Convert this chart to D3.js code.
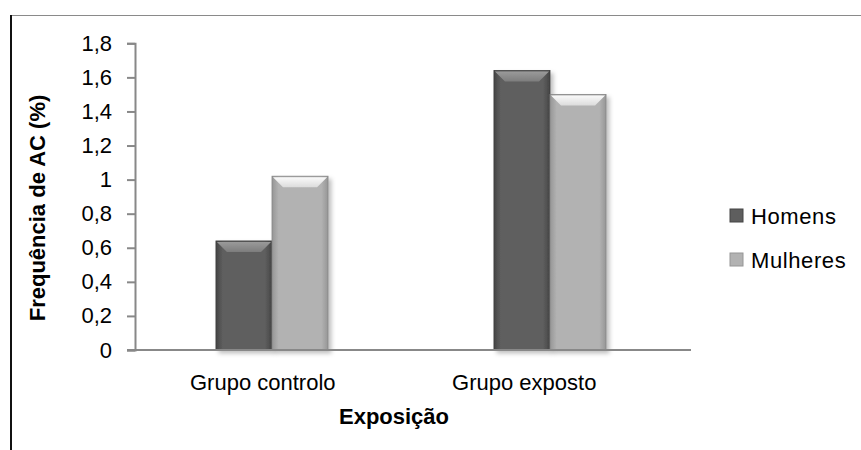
<!DOCTYPE html>
<html>
<head>
<meta charset="utf-8">
<script src="https://cdn.jsdelivr.net/npm/d3@7"></script>
<style>
  body { margin: 0; background: #fff; }
  svg { display: block; font-family: "Liberation Sans", Arial, sans-serif; }
</style>
</head>
<body>
<div id="chart"></div>
<script>
var categories = ["Grupo controlo", "Grupo exposto"]
var series = ["Homens", "Mulheres"]
var homens = [0.64, 1.64]
var mulheres = [1.02, 1.5]
var yTicks = [0, 0.2, 0.4, 0.6, 0.8, 1, 1.2, 1.4, 1.6, 1.8]

var width = 861, height = 450
var plot = {left: 135, right: 691, top: 43.3, bottom: 350}

var svg = d3.select("#chart").append("svg")
    .attr("width", width)
    .attr("height", height)

var defs = svg.append("defs")

// bar shading
var shades = {
  Homens:   {side: "#454545", mid: "#5e5e5e", top: "#7d7d7d", topEdge: "#9a9a9a", edge: "#3c3c3c"},
  Mulheres: {side: "#969696", mid: "#b2b2b2", top: "#dcdcdc", topEdge: "#fafafa", edge: "#858585"}
}
series.forEach(function (s) {
  var g = defs.append("linearGradient").attr("id", "body-" + s)
    .attr("x1", 0).attr("x2", 1).attr("y1", 0).attr("y2", 0)
  g.append("stop").attr("offset", "0%").attr("stop-color", shades[s].side)
  g.append("stop").attr("offset", "12%").attr("stop-color", shades[s].mid)
  g.append("stop").attr("offset", "88%").attr("stop-color", shades[s].mid)
  g.append("stop").attr("offset", "100%").attr("stop-color", shades[s].side)
  var t = defs.append("linearGradient").attr("id", "top-" + s)
    .attr("x1", 0).attr("x2", 0).attr("y1", 0).attr("y2", 1)
  t.append("stop").attr("offset", "0%").attr("stop-color", shades[s].topEdge)
  t.append("stop").attr("offset", "100%").attr("stop-color", shades[s].top)
})

var f = defs.append("filter").attr("id", "shadow")
    .attr("x", "-20%").attr("y", "-10%").attr("width", "150%").attr("height", "130%")
f.append("feDropShadow").attr("dx", 3).attr("dy", 3).attr("stdDeviation", 2)
    .attr("flood-color", "#000").attr("flood-opacity", 0.25)

// frame
svg.append("line").attr("x1", 11).attr("x2", width).attr("y1", 15.5).attr("y2", 15.5)
    .attr("stroke", "#8a8a8a").attr("stroke-width", 1)
svg.append("line").attr("x1", 11).attr("x2", 11).attr("y1", 15).attr("y2", height)
    .attr("stroke", "#111").attr("stroke-width", 2)

var x = d3.scaleBand().domain(categories).range([plot.left, plot.right])
var xs = d3.scaleBand().domain(series).range([-2, x.bandwidth() - 2]).paddingOuter(1.48)
var xLabel = d3.scaleBand().domain(categories).range([132, 655])
var y = d3.scaleLinear().domain([0, 1.8]).range([plot.bottom, plot.top])

var rows = categories.map(function (c, i) {
  return {cat: c, values: [{s: "Homens", v: homens[i]}, {s: "Mulheres", v: mulheres[i]}]}
})

// y axis
var yAxis = svg.append("g")
    .attr("transform", "translate(" + plot.left + ",0)")
    .call(d3.axisLeft(y).tickValues(yTicks).tickSize(8).tickPadding(15)
      .tickFormat(function (d) { return String(d3.format(".1~f")(d)).replace(".", ",") }))
yAxis.select(".domain").attr("stroke", "#888").attr("stroke-width", 2)
yAxis.selectAll(".tick line").attr("stroke", "#888").attr("stroke-width", 2)
yAxis.selectAll("text").attr("font-size", 22).attr("fill", "#000")
    .attr("font-family", "Liberation Sans, Arial, sans-serif")

// bars
var groups = svg.selectAll(".grp").data(rows).enter().append("g")
    .attr("transform", function (d) { return "translate(" + x(d.cat) + ",0)" })

var bars = groups.selectAll(".bar").data(function (d) { return d.values }).enter().append("g")
    .attr("class", "bar")
    .attr("filter", "url(#shadow)")

bars.append("rect")
    .attr("x", function (d) { return xs(d.s) })
    .attr("y", function (d) { return y(d.v) })
    .attr("width", xs.bandwidth())
    .attr("height", function (d) { return y(0) - y(d.v) })
    .attr("fill", function (d) { return "url(#body-" + d.s + ")" })
    .attr("stroke", function (d) { return shades[d.s].edge })
    .attr("stroke-width", 0.8)

bars.append("path")
    .attr("d", function (d) {
      var x0 = xs(d.s) + 1, x1 = x0 + xs.bandwidth() - 2, y0 = y(d.v) + 1, b = 10
      return "M" + x0 + "," + y0 + "L" + x1 + "," + y0 + "L" + (x1 - b) + "," + (y0 + b) +
        "L" + (x0 + b) + "," + (y0 + b) + "Z"
    })
    .attr("fill", function (d) { return "url(#top-" + d.s + ")" })

// x axis line
svg.append("line")
    .attr("x1", plot.left - 8).attr("x2", plot.right)
    .attr("y1", y(0)).attr("y2", y(0))
    .attr("stroke", "#888").attr("stroke-width", 2)

svg.selectAll(".xlab").data(categories).enter().append("text")
    .attr("x", function (d) { return xLabel(d) + xLabel.bandwidth() / 2 })
    .attr("y", 390)
    .attr("text-anchor", "middle")
    .attr("font-size", 22)
    .text(function (d) { return d })

svg.append("text")
    .attr("x", 394).attr("y", 424)
    .attr("text-anchor", "middle")
    .attr("font-size", 22).attr("font-weight", "bold")
    .text("Exposição")

svg.append("text")
    .attr("transform", "translate(45,208) rotate(-90)")
    .attr("text-anchor", "middle")
    .attr("font-size", 22).attr("font-weight", "bold")
    .text("Frequência de AC (%)")

// legend
var legend = svg.selectAll(".leg").data(series).enter().append("g")
    .attr("transform", function (d, i) { return "translate(730," + (209 + i * 44) + ")" })
legend.append("rect").attr("width", 13).attr("height", 13)
    .attr("fill", function (d) { return shades[d].mid })
    .attr("stroke", function (d) { return shades[d].side }).attr("stroke-width", 1)
legend.append("text").attr("x", 21).attr("y", 15)
    .attr("font-size", 22).attr("letter-spacing", 0.6)
    .text(function (d) { return d })
</script>
</body>
</html>
